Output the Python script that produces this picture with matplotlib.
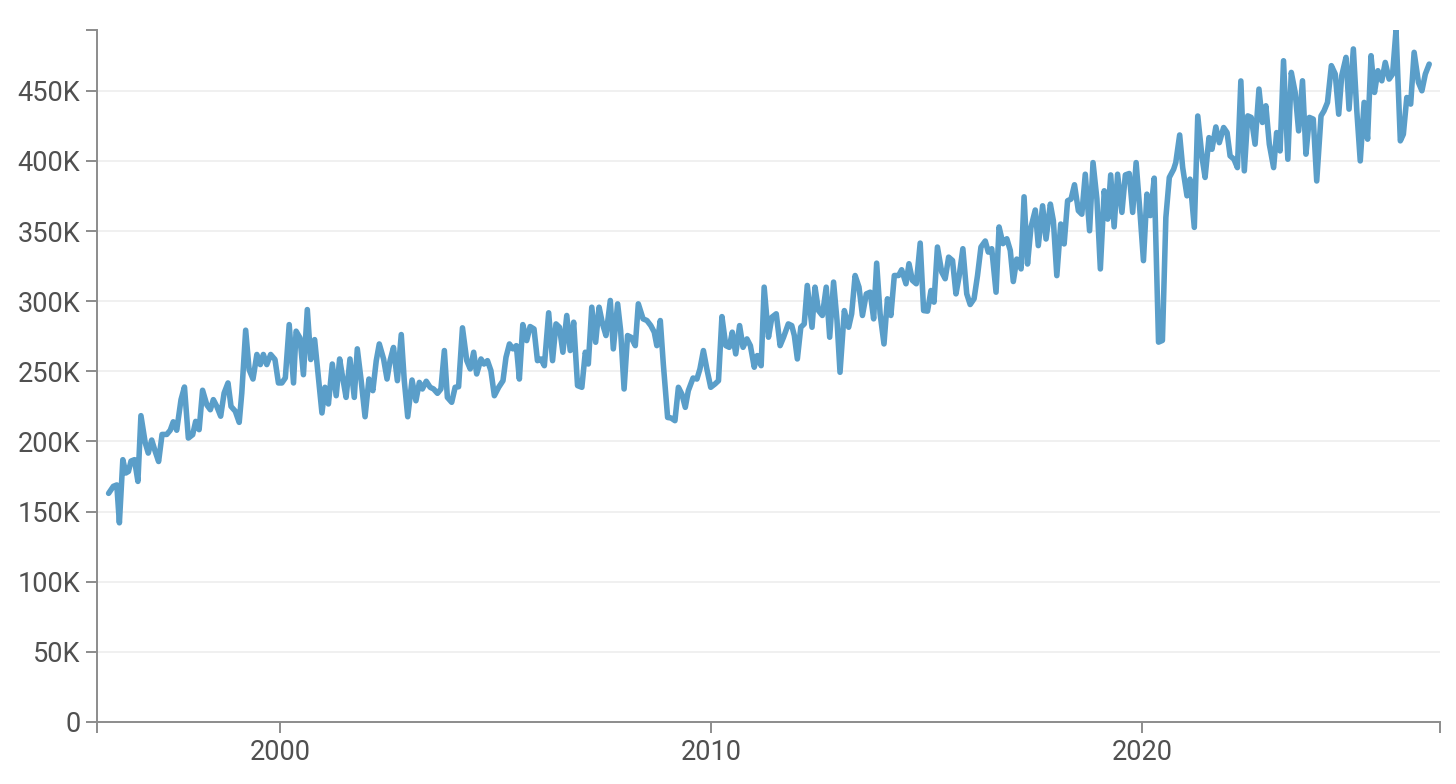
import matplotlib
matplotlib.use("Agg")
import matplotlib.pyplot as plt

plt.rcParams['font.family'] = ['Roboto', 'DejaVu Sans']

# decimal year, value in thousands
years = [
    1996.02, 1996.13, 1996.21, 1996.27, 1996.35, 1996.42, 1996.48, 1996.54, 1996.62, 1996.70,
    1996.77, 1996.87, 1996.94, 1997.02, 1997.10, 1997.18, 1997.26, 1997.37, 1997.45, 1997.52,
    1997.60, 1997.70, 1997.78, 1997.87, 1997.97, 1998.04, 1998.12, 1998.20, 1998.30, 1998.38,
    1998.45, 1998.53, 1998.62, 1998.70, 1998.79, 1998.86, 1998.96, 1999.05, 1999.11, 1999.20,
    1999.28, 1999.37, 1999.46, 1999.54, 1999.61, 1999.69, 1999.78, 1999.88, 1999.96, 2000.04,
    2000.12, 2000.21, 2000.31, 2000.37, 2000.46, 2000.54, 2000.63, 2000.71, 2000.80, 2000.87,
    2000.97, 2001.04, 2001.12, 2001.21, 2001.30, 2001.38, 2001.45, 2001.53, 2001.62, 2001.72,
    2001.79, 2001.88, 2001.97, 2002.06, 2002.15, 2002.23, 2002.30, 2002.40, 2002.48, 2002.55,
    2002.63, 2002.72, 2002.81, 2002.88, 2002.96, 2003.06, 2003.15, 2003.23, 2003.30, 2003.39,
    2003.48, 2003.56, 2003.65, 2003.73, 2003.81, 2003.88, 2003.98, 2004.06, 2004.14, 2004.23,
    2004.33, 2004.41, 2004.49, 2004.56, 2004.66, 2004.73, 2004.81, 2004.89, 2004.97, 2005.07,
    2005.17, 2005.24, 2005.32, 2005.40, 2005.48, 2005.55, 2005.63, 2005.72, 2005.80, 2005.89,
    2005.97, 2006.05, 2006.13, 2006.23, 2006.32, 2006.40, 2006.48, 2006.56, 2006.65, 2006.73,
    2006.81, 2006.90, 2007.00, 2007.08, 2007.15, 2007.23, 2007.32, 2007.40, 2007.48, 2007.56,
    2007.66, 2007.73, 2007.83, 2007.90, 2007.98, 2008.06, 2008.14, 2008.24, 2008.31, 2008.42,
    2008.51, 2008.60, 2008.68, 2008.74, 2008.82, 2008.89, 2008.99, 2009.07, 2009.16, 2009.24,
    2009.32, 2009.40, 2009.47, 2009.58, 2009.67, 2009.74, 2009.82, 2009.90, 2009.99, 2010.09,
    2010.17, 2010.25, 2010.34, 2010.42, 2010.49, 2010.57, 2010.66, 2010.74, 2010.83, 2010.91,
    2011.00, 2011.07, 2011.16, 2011.23, 2011.33, 2011.41, 2011.51, 2011.60, 2011.68, 2011.79,
    2011.87, 2011.93, 2012.00, 2012.08, 2012.16, 2012.23, 2012.34, 2012.41, 2012.49, 2012.58,
    2012.67, 2012.75, 2012.84, 2012.92, 2012.99, 2013.09, 2013.19, 2013.26, 2013.34, 2013.43,
    2013.51, 2013.60, 2013.69, 2013.77, 2013.84, 2013.92, 2014.01, 2014.09, 2014.17, 2014.25,
    2014.35, 2014.42, 2014.52, 2014.59, 2014.67, 2014.76, 2014.85, 2014.93, 2015.02, 2015.10,
    2015.17, 2015.25, 2015.35, 2015.43, 2015.51, 2015.60, 2015.68, 2015.75, 2015.84, 2015.93,
    2016.01, 2016.10, 2016.18, 2016.26, 2016.36, 2016.43, 2016.51, 2016.61, 2016.68, 2016.77,
    2016.86, 2016.94, 2017.01, 2017.09, 2017.19, 2017.26, 2017.34, 2017.42, 2017.52, 2017.59,
    2017.69, 2017.77, 2017.87, 2017.94, 2018.02, 2018.11, 2018.19, 2018.27, 2018.35, 2018.43,
    2018.52, 2018.60, 2018.68, 2018.78, 2018.86, 2018.95, 2019.03, 2019.12, 2019.20, 2019.27,
    2019.35, 2019.43, 2019.53, 2019.61, 2019.70, 2019.78, 2019.86, 2019.95, 2020.03, 2020.11,
    2020.19, 2020.28, 2020.38, 2020.47, 2020.55, 2020.63, 2020.73, 2020.78, 2020.87, 2020.94,
    2021.04, 2021.11, 2021.21, 2021.29, 2021.39, 2021.46, 2021.55, 2021.62, 2021.71, 2021.79,
    2021.89, 2021.97, 2022.04, 2022.13, 2022.21, 2022.29, 2022.37, 2022.45, 2022.53, 2022.62,
    2022.71, 2022.79, 2022.87, 2022.95, 2023.05, 2023.12, 2023.20, 2023.28, 2023.38, 2023.46,
    2023.55, 2023.63, 2023.72, 2023.80, 2023.88, 2023.97, 2024.05, 2024.15, 2024.22, 2024.30,
    2024.39, 2024.48, 2024.56, 2024.63, 2024.73, 2024.80, 2024.90, 2024.98, 2025.06, 2025.15,
    2025.23, 2025.31, 2025.39, 2025.47, 2025.56, 2025.64, 2025.73, 2025.81, 2025.89, 2025.99,
    2026.06, 2026.14, 2026.23, 2026.31, 2026.41, 2026.49, 2026.57, 2026.66,
]
values_k = [
    163, 168, 169, 142, 187, 177.5, 178.6, 186, 187, 171.5,
    218.4, 199, 191.7, 201, 193, 185.7, 205, 205, 208, 214,
    208, 229.8, 238.8, 202.4, 204.8, 214.3, 208.4, 236.5, 226, 222.6,
    229.8, 225, 218, 234.5, 241.7, 225, 221.5, 213.6, 234.5, 279.3,
    251.2, 244.5, 262, 254.8, 262, 254.8, 262, 258.4, 241.7, 241.7,
    245.3, 283.3, 241.7, 278.6, 273.8, 247.6, 294, 258.4, 272.6, 251.2,
    220.3, 238.6, 226.7, 255.2, 232.6, 258.8, 245.7, 231.4, 258.8, 231.4,
    266, 243.3, 217.6, 244.5, 236.2, 257.6, 269.5, 258.8, 244.5, 257.6,
    267, 243.3, 276.2, 243.3, 217.6, 243.8, 229, 242.1, 237.4, 242.9,
    238.6, 237.4, 234.3, 237.4, 264.8, 231.4, 227.9, 238.6, 239, 281,
    257.6, 251.7, 263.6, 248.1, 258.8, 255.2, 257.6, 250.5, 232.6, 238.6,
    243.3, 260, 269.5, 266, 268.3, 244.5, 283.3, 271.9, 281.9, 280.2,
    257.6, 258.8, 254, 291.7, 257.6, 283.8, 281.4, 263.6, 289.8, 264.8,
    285, 239.8, 238.6, 263.6, 255.2, 295.7, 270.7, 295.7, 283.8, 275.5,
    300.5, 266, 298.1, 279, 237.4, 275.5, 274.3, 268.3, 298.1, 287.4,
    286.2, 282.6, 277.9, 268.3, 286.2, 255.2, 217.1, 216.7, 214.8, 238.6,
    233.8, 224.3, 236.2, 245.2, 244.5, 251.7, 264.8, 251.7, 238.6, 241,
    243.3, 289, 268.3, 267.1, 277.9, 262.4, 282.6, 267.1, 273.1, 268.3,
    252.9, 261.2, 254, 310, 274.3, 288.6, 291, 268.3, 274.3, 283.8,
    282.6, 275.5, 258.8, 281.4, 283.8, 311.2, 281.4, 310, 293.3, 289.8,
    310, 274.3, 313.6, 286.2, 249.3, 293.3, 281.4, 291, 318.3, 310,
    289.8, 305.2, 306.4, 287.4, 327.1, 291, 269.5, 301.7, 289.8, 318.3,
    318.3, 322.4, 312.4, 326.7, 314.8, 312.4, 341.4, 293.3, 292.9, 307.6,
    299.3, 338.6, 320.7, 316, 331.4, 329, 305.2, 317.1, 337.4, 305.2,
    297.6, 301.7, 318.3, 338.6, 342.9, 335, 337.4, 306.4, 352.9, 341,
    344.5, 336.2, 314, 330, 323, 374.4, 326.5, 352.6, 365, 339.6,
    368, 344.3, 369.2, 357.3, 318.2, 355, 340.8, 371.6, 372.8, 383,
    364.5, 362, 390.5, 350.2, 398.8, 372.8, 323, 378.7, 358.5, 390,
    353, 390.5, 363.3, 390, 391, 363.3, 398.8, 363.3, 328.9, 376.3,
    361, 387.7, 270.8, 272, 359.7, 388.2, 394, 398.8, 418.5, 395.3,
    375.1, 387, 352.6, 432, 402.4, 388.2, 416.6, 408.3, 424.2, 413,
    423.8, 420.2, 403.6, 401.2, 395.2, 457, 392.9, 432.1, 431, 411.9,
    451.2, 427.4, 439.3, 411.9, 395.2, 420.2, 407.1, 471.4, 401.2, 463.1,
    448.8, 421.4, 457.1, 404.8, 431, 429.8, 385.7, 432.1, 435.7, 441.7,
    467.9, 461.9, 433.3, 460.7, 473.8, 436.9, 479.8, 435.7, 400, 441.7,
    415.5, 475, 448.8, 464.3, 457.1, 470.2, 458.3, 461.9, 493.3, 414.3,
    419, 445.2, 440.5, 477.4, 456, 450, 461.9, 469,
]
values = [v * 1000 for v in values_k]

x_ticks = [2000, 2010, 2020]
y_ticks = [0, 50000, 100000, 150000, 200000, 250000, 300000, 350000, 400000, 450000]
x_left = 1995.75
x_right = 2026.91

fig = plt.figure(figsize=(14.56, 7.84), dpi=100)
ax = fig.add_axes([0.0666, 0.0791, 0.9224, 0.8826])

ax.plot(years, values, color='#5a9ec9', lw=4.0, solid_joinstyle='round',
        solid_capstyle='round', zorder=3)

ax.set_xlim(x_left, x_right)
ax.set_ylim(0, max(values))

ax.set_xticks([x_left] + x_ticks + [x_right])
ax.set_xticklabels([''] + [str(t) for t in x_ticks] + [''])
ax.set_yticks(y_ticks + [max(values)])
ax.set_yticklabels(['0' if t == 0 else '%dK' % (t // 1000) for t in y_ticks] + [''])

for t in y_ticks[1:]:
    ax.axhline(t, color='#efefef', lw=1.3, zorder=1)

for s in ['top', 'right']:
    ax.spines[s].set_visible(False)
for s in ['left', 'bottom']:
    ax.spines[s].set_color('#8c8c8c')
    ax.spines[s].set_linewidth(1.4)

ax.tick_params(axis='both', colors='#8c8c8c', width=1.4, length=8,
               labelsize=19.5, labelcolor='#505050', pad=4)

fig.savefig('out.png', dpi=100)
